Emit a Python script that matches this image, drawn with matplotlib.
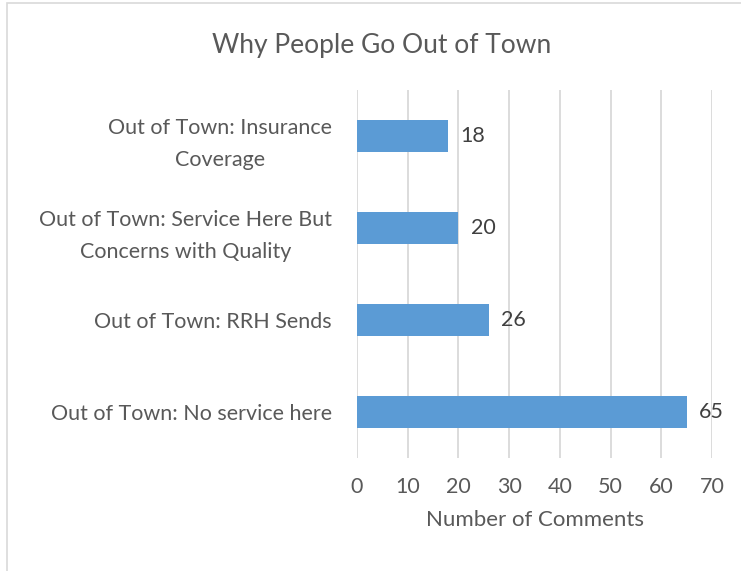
import matplotlib.pyplot as plt
from matplotlib.patches import Rectangle

categories = [
    "Out of Town: No service here",
    "Out of Town: RRH Sends",
    "Out of Town: Service Here But\nConcerns with Quality",
    "Out of Town: Insurance\nCoverage",
]
counts = [65, 26, 20, 18]
x_ticks = [0, 10, 20, 30, 40, 50, 60, 70]

text_color = "#595959"
bar_color = "#5B9BD5"
grid_color = "#D9D9D9"

plt.rcParams["font.family"] = ["Lato", "DejaVu Sans"]

fig = plt.figure(figsize=(7.41, 5.71), dpi=100)
ax = fig.add_axes([357 / 741, 1 - 458 / 571, (712 - 357) / 741, (458 - 90) / 571])

ypos = list(range(len(categories)))
ax.barh(ypos, counts, height=0.34, color=bar_color, zorder=3)

# value labels next to each bar
for y, v in zip(ypos, counts):
    ax.annotate(str(v), (v, y), xytext=(9, 0), textcoords="offset points",
                va="center", ha="left", fontsize=15.5, color="#404040")

ax.set_xlim(0, 70)
ax.set_ylim(-0.5, len(categories) - 0.5)
ax.set_xticks(x_ticks)
ax.set_yticks(ypos)
ax.set_yticklabels(categories, multialignment="center", linespacing=1.75)
ax.tick_params(axis="both", length=0, labelsize=15.5, labelcolor=text_color)
ax.tick_params(axis="x", pad=14)
ax.tick_params(axis="y", pad=18)
ax.grid(axis="x", color=grid_color, linewidth=1.3, zorder=0)
for s in ax.spines.values():
    s.set_visible(False)

ax.set_xlabel("Number of Comments", fontsize=16, color=text_color, labelpad=9)
fig.text(0.515, 1 - 45 / 571, "Why People Go Out of Town", ha="center", va="center",
         fontsize=19, color=text_color)

# chart border
fig.patches.append(Rectangle((7 / 741, -0.05), 1.0, 1 - 3 / 571 + 0.05,
                             transform=fig.transFigure, fill=False,
                             edgecolor="#D9D9D9", linewidth=1.2))

fig.savefig("out.png", dpi=100)
